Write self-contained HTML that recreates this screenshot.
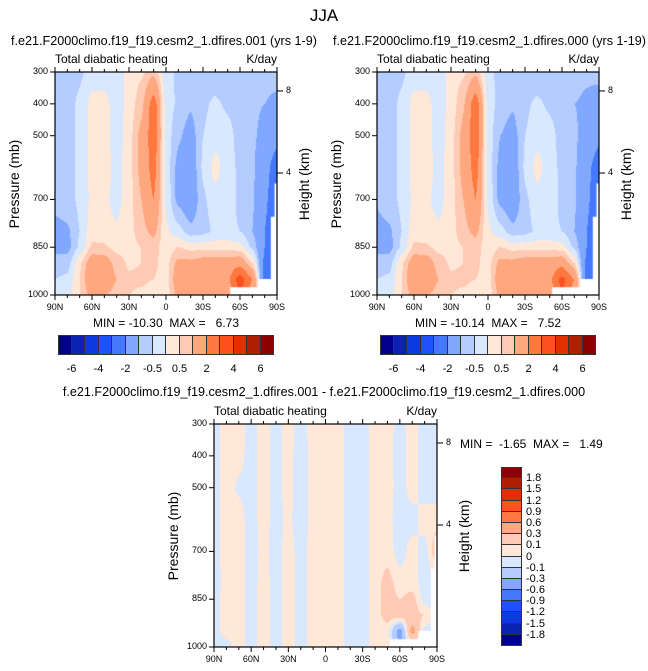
<!DOCTYPE html>
<html><head><meta charset="utf-8">
<style>
body{margin:0;background:#fff;width:648px;height:671px;position:relative;overflow:hidden;font-family:"Liberation Sans",sans-serif;color:#000}
.t{position:absolute;white-space:pre}
canvas{position:absolute}
</style></head>
<body>
<div class="t" style="left:0;width:648px;text-align:center;top:6px;font-size:17px">JJA</div>
<div id="root"></div>
<script>
// ---- data ----
const lats = [90,80,70,60,50,40,30,20,10,0,-10,-20,-30,-40,-50,-60,-70,-80,-90];
const latLabels = ['90N','60N','30N','0','30S','60S','90S'];
const levels = [300,400,500,600,700,800,850,900,950,1000];
const pTicks = [300,400,500,700,850,1000];
const heightTicks = ['8','4'];
const cLevels = [-6,-5,-4,-3,-2,-1,-0.5,0,0.5,1,2,3,4,5,6];
const cLabels = ['-6','-4','-2','-0.5','0.5','2','4','6'];
const dLevels = [-1.8,-1.5,-1.2,-0.9,-0.6,-0.3,-0.1,0,0.1,0.3,0.6,0.9,1.2,1.5,1.8];
const dLabels = ['-1.8','-1.5','-1.2','-0.9','-0.6','-0.3','-0.1','0','0.1','0.3','0.6','0.9','1.2','1.5','1.8'];
const colors = ['#00008c','#0a22b0','#0a3ae0','#1e50ff','#4478ff','#80a8ff','#b4ccff','#d8e8ff','#ffe8d8','#ffcab4','#ffa880','#ff7840','#ff5020','#e03000','#b01e00','#8c0000'];
const field1 = [
[-0.7,-0.7,-0.6,-0.3,-0.3,-0.4,0.2,0.4,0.8,-0.3,-0.6,-0.8,-0.8,-0.8,-0.8,-0.8,-0.8,-0.8,-0.7],
[-0.7,-0.7,-0.4,0.2,0.2,-0.3,0.2,0.8,2.5,-0.2,-0.6,-0.9,-0.6,-0.4,-0.6,-0.8,-0.9,-1.0,-1.2],
[-0.7,-0.7,-0.4,0.2,0.2,-0.3,0.3,1.2,2.6,-0.2,-0.9,-1.3,-0.5,-0.2,-0.3,-0.7,-0.9,-1.2,-1.6],
[-0.8,-0.7,-0.4,0.2,0.3,-0.2,0.3,1.2,2.4,-0.2,-1.2,-1.5,-0.4,0.2,-0.3,-0.6,-0.9,-1.6,-2.6],
[-0.8,-0.7,-0.4,0.1,0.1,-0.2,0.3,1.0,2.0,-0.1,-1.2,-1.6,-0.6,-0.2,-0.3,-0.6,-0.9,-1.8,-2.8],
[-1.2,-1.1,-0.5,0.3,0.2,0.1,0.3,0.8,1.2,0.1,-0.3,-0.8,-0.7,-0.4,-0.4,-0.5,-1.0,-2.0,-3.0],
[-1.2,-1.2,-0.4,0.6,0.6,0.3,0.3,0.5,0.7,0.2,0.5,0.3,0.3,0.3,0.3,0.2,-0.6,-2.0,-3.0],
[-0.7,-0.7,0.4,1.5,1.4,0.8,0.4,0.5,0.6,0.3,1.2,1.2,1.4,1.5,1.4,1.6,0.5,-2.2,-3.0],
[-0.5,-0.4,0.5,1.8,1.6,1.0,0.6,0.6,0.5,0.3,1.5,1.5,1.5,1.6,1.8,3.5,2.0,-2.5,-3],
[-0.3,-0.2,0.5,1.2,1.0,0.8,0.5,0.4,0.3,0.2,1.2,1.2,1.3,1.3,1.5,3.0,1.5,0,0]];
const field2 = [
[-0.7,-0.7,-0.6,-0.3,-0.3,-0.4,0.2,0.4,0.8,-0.3,-0.7,-0.8,-0.8,-0.8,-0.8,-0.8,-0.8,-0.9,-0.8],
[-0.7,-0.7,-0.4,0.2,0.2,-0.3,0.2,0.9,2.6,-0.2,-0.7,-0.9,-0.6,-0.4,-0.6,-0.8,-1.0,-1.1,-1.3],
[-0.7,-0.7,-0.4,0.2,0.2,-0.3,0.3,1.2,2.7,-0.2,-1.0,-1.3,-0.5,-0.2,-0.3,-0.7,-0.9,-1.3,-1.7],
[-0.8,-0.7,-0.4,0.2,0.3,-0.2,0.3,1.2,2.4,-0.2,-1.2,-1.5,-0.4,0.2,-0.3,-0.6,-0.9,-1.7,-2.6],
[-0.9,-0.7,-0.4,0.1,0.1,-0.2,0.3,1.0,2.0,-0.1,-1.2,-1.6,-0.6,-0.2,-0.3,-0.6,-0.9,-1.8,-2.8],
[-1.2,-1.1,-0.5,0.3,0.2,0.1,0.3,0.8,1.2,0.1,-0.3,-0.8,-0.7,-0.4,-0.4,-0.5,-1.0,-2.0,-3.0],
[-1.2,-1.2,-0.4,0.6,0.6,0.3,0.3,0.5,0.7,0.2,0.5,0.3,0.3,0.3,0.3,0.2,-0.6,-2.0,-3.0],
[-0.7,-0.7,0.4,1.5,1.4,0.8,0.4,0.5,0.6,0.3,1.2,1.2,1.4,1.5,1.4,1.6,0.5,-2.2,-3.0],
[-0.5,-0.4,0.5,1.8,1.6,1.0,0.6,0.6,0.5,0.3,1.5,1.5,1.5,1.6,1.8,3.3,2.0,-2.5,-3],
[-0.3,-0.2,0.5,1.2,1.0,0.8,0.5,0.4,0.3,0.2,1.2,1.2,1.3,1.3,1.5,3.0,1.5,0,0]];
const fieldDiff = [
[-0.05,0.05,0.05,-0.05,0.05,-0.05,0.05,-0.05,0.05,0.05,0.05,-0.05,-0.05,0.05,0.05,-0.05,0.05,-0.05,-0.05],
[-0.05,0.05,0.04,-0.05,0.05,-0.05,0.05,-0.08,0.05,0.05,0.04,-0.05,-0.05,0.05,0.04,-0.05,0.05,-0.05,-0.05],
[-0.05,0.05,-0.02,-0.05,0.05,-0.05,0.05,-0.08,0.05,0.09,0.05,-0.05,-0.05,0.05,0.05,-0.05,0.05,-0.05,-0.05],
[-0.05,0.05,0.05,-0.05,0.05,-0.05,0.03,-0.08,0.05,0.05,0.05,-0.05,-0.05,0.05,0.03,-0.05,-0.05,0.05,0.05],
[-0.05,0.05,0.05,-0.05,0.03,-0.05,0.05,-0.05,0.05,0.05,0.05,-0.05,-0.05,0.05,0.05,-0.05,0.05,-0.05,0.2],
[-0.05,0.04,0.05,-0.05,0.05,-0.05,0.05,-0.05,0.05,0.05,0.05,-0.05,-0.05,0.05,0.15,0.05,0.05,-0.05,-0.05],
[-0.05,0.05,0.05,-0.05,0.05,-0.05,0.05,-0.05,0.05,0.05,0.05,-0.05,-0.05,0.05,0.15,0.1,0.15,-0.05,-0.05],
[-0.05,0.05,0.05,-0.05,0.05,-0.05,0.05,-0.05,0.05,0.05,0.05,-0.05,-0.05,0.05,0.15,0.2,0.15,0.1,-0.05],
[-0.05,0.05,0.05,-0.05,0.05,-0.05,0.05,-0.05,0.05,0.05,0.05,-0.05,-0.05,0.05,0.05,-0.4,0.4,-0.05,-0.05],
[-0.08,-0.05,0.05,-0.05,0.05,-0.05,0.05,-0.05,0.05,0.05,0.05,-0.05,-0.05,0.05,0.05,-0.3,-0.05,-0.05,-0.05]];
// missing data (topography) boundary: [lat, pressure]
const maskLat = [-52,-75,-75,-85,-85,-88,-88,-90];
const maskP   = [976,976,950,950,754,754,650,650];

const root=document.getElementById('root');
function el(tag,css,txt,parent){const e=document.createElement(tag);e.style.cssText=css;if(txt!=null)e.textContent=txt;(parent||root).appendChild(e);return e;}
function colorOf(v,lv){let i=0;while(i<lv.length&&v>=lv[i])i++;return colors[i];}
function hexRgb(h){return [parseInt(h.substr(1,2),16),parseInt(h.substr(3,2),16),parseInt(h.substr(5,2),16)];}
function sample(F,latv,p){
  let fi=(90-latv)/10; fi=Math.max(0,Math.min(18,fi));
  let i0=Math.min(17,Math.floor(fi)),tx=fi-i0;
  tx=tx*tx*(3-2*tx)*0.5+tx*0.5;
  let j0=0;while(j0<levels.length-2&&p>levels[j0+1])j0++;
  let ty=(p-levels[j0])/(levels[j0+1]-levels[j0]);ty=Math.max(0,Math.min(1,ty));
  const a=F[j0][i0],b=F[j0][i0+1],c=F[j0+1][i0],d=F[j0+1][i0+1];
  return (a*(1-tx)+b*tx)*(1-ty)+(c*(1-tx)+d*tx)*ty;
}
function drawPanel(P){
  const {x0,y0,w,h,F,lv,name}=P;
  const xs=lat=>x0+(90-lat)/180*w, ys=p=>y0+(p-300)/700*h;
  const cv=el('canvas',`left:${x0}px;top:${y0}px;width:${w}px;height:${h}px`);
  
  
  cv.width=w;cv.height=h;const ctx=cv.getContext('2d');const img=ctx.createImageData(w,h);
  for(let y=0;y<h;y++)for(let x=0;x<w;x++){
    const lat=90-(x+0.5)/w*180,p=300+(y+0.5)/h*700;
    const c=hexRgb(colorOf(sample(F,lat,p),lv));const k=(y*w+x)*4;
    img.data[k]=c[0];img.data[k+1]=c[1];img.data[k+2]=c[2];img.data[k+3]=255;}
  ctx.putImageData(img,0,0);
  ctx.fillStyle='#fff';ctx.beginPath();ctx.moveTo((90-maskLat[0])/180*w,h);
  for(let i=0;i<maskLat.length;i++)ctx.lineTo((90-maskLat[i])/180*w,(maskP[i]-300)/700*h);
  ctx.lineTo(w,h);ctx.closePath();ctx.fill();
  const ns='http://www.w3.org/2000/svg';
  const svg=document.createElementNS(ns,'svg');
  svg.setAttribute('style',`position:absolute;left:0;top:0`);svg.setAttribute('width',648);svg.setAttribute('height',671);
  
  
  root.appendChild(svg);
  let s=`<rect x="${x0}" y="${y0}" width="${w}" height="${h}" fill="none" stroke="#000" stroke-width="1.2"/>`;
  for(let lat=90;lat>=-90;lat-=10){const X=xs(lat),L=(lat%30===0)?5:3;
    s+=`<line x1="${X}" y1="${y0}" x2="${X}" y2="${y0-L}" stroke="#000"/><line x1="${X}" y1="${y0+h}" x2="${X}" y2="${y0+h+L}" stroke="#000"/>`;}
  pTicks.forEach(p=>{const Y=ys(p);s+=`<line x1="${x0-5}" y1="${Y}" x2="${x0}" y2="${Y}" stroke="#000"/>`;});
  [0.085,0.453].forEach(f=>{const Y=y0+f*h;s+=`<line x1="${x0+w}" y1="${Y}" x2="${x0+w+6}" y2="${Y}" stroke="#000"/>`;});
  svg.innerHTML=s;
  latLabels.forEach((t,i)=>{const d=el('div',`left:${xs(90-i*30)-20}px;width:40px;text-align:center;top:${y0+h+7}px;font-size:9px`,t);d.className='t';
    });
  pTicks.forEach(p=>{const d=el('div',`left:${x0-40}px;width:33px;text-align:right;top:${ys(p)-6}px;font-size:9px`,String(p));d.className='t';
    });
  heightTicks.forEach((t,i)=>{const d=el('div',`left:${x0+w+9}px;top:${y0+[0.085,0.453][i]*h-6}px;font-size:9px`,t);d.className='t';
    });
  let d=el('div',`left:${x0}px;top:${y0-20}px;font-size:12px`,'Total diabatic heating');d.className='t';
  
  d=el('div',`left:${x0+w-60}px;width:60px;text-align:right;top:${y0-20}px;font-size:12px`,'K/day');d.className='t';
  
  d=el('div',`left:${x0-101}px;width:120px;text-align:center;top:${y0+h/2-8}px;font-size:14px;transform-origin:60px 8px;transform:rotate(-90deg);`,'Pressure (mb)');d.className='t';
  
  d=el('div',`left:${x0+w-33}px;width:120px;text-align:center;top:${y0+h/2-8}px;font-size:14px;transform-origin:60px 8px;transform:rotate(-90deg);`,'Height (km)');d.className='t';
  
}
function hbar(x,y,w,h,name){
  const bw=w/16;
  for(let i=0;i<16;i++){const b=el('div',`position:absolute;left:${x+i*bw}px;top:${y}px;width:${bw}px;height:${h}px;background:${colors[i]};box-sizing:border-box;border:1px solid #333;border-left-width:${i?0:1}px`);
    }
  cLabels.forEach((t,i)=>{const d=el('div',`left:${x+(1+2*i)*bw-20}px;width:40px;text-align:center;top:${y+h+8}px;font-size:11px`,t);d.className='t';
    });
}
function txt(name,css,t){const d=el('div',css,t);d.className='t';}

txt('left-panel-title','left:11px;top:34px;font-size:12.6px','f.e21.F2000climo.f19_f19.cesm2_1.dfires.001 (yrs 1-9)');
txt('right-panel-title','left:333px;top:34px;font-size:12.6px','f.e21.F2000climo.f19_f19.cesm2_1.dfires.000 (yrs 1-19)');
txt('diff-panel-title','left:0;width:648px;text-align:center;top:385px;font-size:12.6px','f.e21.F2000climo.f19_f19.cesm2_1.dfires.001 - f.e21.F2000climo.f19_f19.cesm2_1.dfires.000');

drawPanel({x0:55,y0:72,w:222,h:223,F:field1,lv:cLevels,name:'left-panel'});
drawPanel({x0:377,y0:72,w:222,h:223,F:field2,lv:cLevels,name:'right-panel'});
drawPanel({x0:214,y0:424,w:223,h:223,F:fieldDiff,lv:dLevels,name:'diff-panel'});

txt('left-min-max','left:55px;width:222px;text-align:center;top:316px;font-size:12px','MIN = -10.30  MAX =   6.73');
txt('right-min-max','left:377px;width:222px;text-align:center;top:316px;font-size:12px','MIN = -10.14  MAX =   7.52');
txt('diff-min-max','left:460px;top:437px;font-size:12px','MIN =  -1.65  MAX =   1.49');

hbar(58,335,216,20,'left-colorbar');
hbar(380,335,216,20,'right-colorbar');
(function(){const x=501,y=467,w=21,h=179,bh=h/16;
  for(let i=0;i<16;i++){const b=el('div',`position:absolute;left:${x}px;top:${y+i*bh}px;width:${w}px;height:${bh}px;background:${colors[15-i]};box-sizing:border-box;border:1px solid #333;border-top-width:${i?0:1}px`);
    }
  for(let i=0;i<15;i++){const t=dLabels[14-i];const d=el('div',`left:${x+w+4}px;top:${y+(i+1)*bh-6}px;font-size:11px`,t);d.className='t';
    }
})();
</script>
</body></html>
